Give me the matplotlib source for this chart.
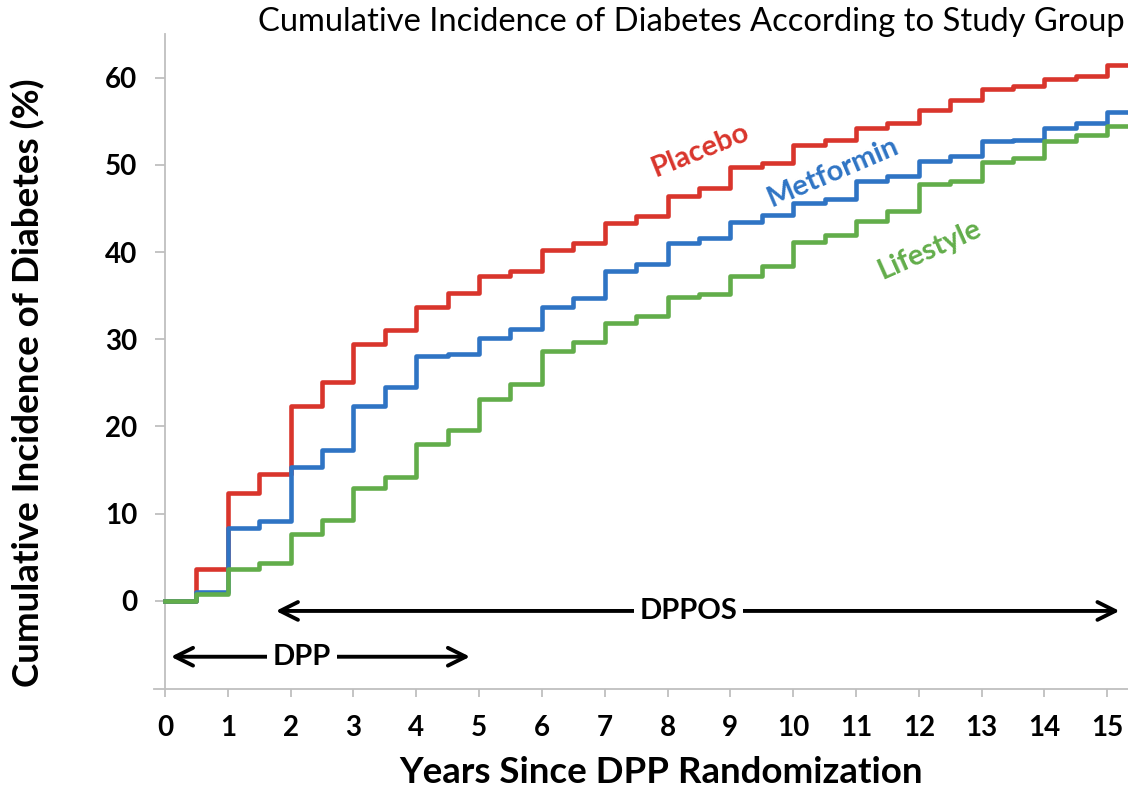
import matplotlib
matplotlib.use("Agg")
import matplotlib.pyplot as plt

plt.rcParams['font.family'] = ['Lato', 'DejaVu Sans']

# step times (years) and cumulative incidence (%)
years = [0, 0.5, 1, 1.5, 2, 2.5, 3, 3.5, 4, 4.5, 5, 5.5, 6, 6.5, 7, 7.5,
         8, 8.5, 9, 9.5, 10, 10.5, 11, 11.5, 12, 12.5, 13, 13.5, 14, 14.5, 15]
placebo = [0, 3.7, 12.4, 14.5, 22.4, 25.1, 29.4, 31.1, 33.7, 35.3, 37.3, 37.8,
           40.2, 41.0, 43.3, 44.1, 46.4, 47.4, 49.8, 50.2, 52.3, 52.9, 54.2,
           54.8, 56.3, 57.4, 58.7, 59.0, 59.8, 60.2, 61.5]
metformin = [0, 1.0, 8.4, 9.2, 15.4, 17.3, 22.3, 24.5, 28.1, 28.3, 30.1, 31.2,
             33.7, 34.7, 37.8, 38.6, 41.0, 41.6, 43.5, 44.2, 45.6, 46.1, 48.1,
             48.7, 50.4, 51.0, 52.7, 52.9, 54.2, 54.8, 56.1]
lifestyle = [0, 0.8, 3.7, 4.3, 7.7, 9.3, 13.0, 14.2, 18.0, 19.6, 23.2, 24.9,
             28.7, 29.7, 31.9, 32.7, 34.9, 35.2, 37.2, 38.4, 41.2, 41.9, 43.6,
             44.7, 47.8, 48.1, 50.3, 50.8, 52.7, 53.4, 54.5]
x_end = 15.5

groups = ["Placebo", "Metformin", "Lifestyle"]
colors = ["#d9352c", "#2f74c4", "#62ad4a"]
label_pos = [(8.52, 51.7, 22), (10.64, 49.2, 23), (12.18, 40.3, 24)]

fig = plt.figure(figsize=(11.28, 7.88), dpi=100)
ax = fig.add_axes([154 / 1128, 99 / 788, 974 / 1128, 655 / 788])

for name, vals, c, (lx, ly, rot) in zip(groups, [placebo, metformin, lifestyle], colors, label_pos):
    ax.step(years + [x_end], vals + [vals[-1]], where="post", color=c, lw=3.3, zorder=3)
    ax.text(lx, ly, name, color=c, fontsize=21, fontweight="bold", rotation=rot,
            ha="center", va="center")

ax.set_xlim(-0.175, 15.33)
ax.set_ylim(-10.1, 65)

# study period arrows
ax.annotate("", xy=(1.72, -1.15), xytext=(15.24, -1.15),
            arrowprops=dict(arrowstyle="<->", lw=2.8, color="black", mutation_scale=32))
ax.text(8.33, -1.15, "DPPOS", fontsize=21, fontweight="bold", ha="center", va="center",
        bbox=dict(facecolor="white", edgecolor="none", pad=4))
ax.annotate("", xy=(0.05, -6.4), xytext=(4.9, -6.4),
            arrowprops=dict(arrowstyle="<->", lw=2.8, color="black", mutation_scale=32))
ax.text(2.18, -6.4, "DPP", fontsize=21, fontweight="bold", ha="center", va="center",
        bbox=dict(facecolor="white", edgecolor="none", pad=4))

ax.spines["top"].set_visible(False)
ax.spines["right"].set_visible(False)
ax.spines["left"].set_position(("data", 0))
for s in ["left", "bottom"]:
    ax.spines[s].set_color("#bfbfbf")
    ax.spines[s].set_linewidth(1.3)

ax.set_xticks(range(0, 16))
ax.set_yticks(range(0, 61, 10))
ax.tick_params(axis="x", length=6, width=1.3, color="#bfbfbf", pad=13, labelsize=20)
ax.tick_params(axis="y", length=7, width=1.3, color="#bfbfbf", pad=13, labelsize=20)
for lab in ax.get_xticklabels() + ax.get_yticklabels():
    lab.set_fontweight("bold")

ax.set_ylabel("Cumulative Incidence of Diabetes (%)", fontsize=26.5, fontweight="bold")
ax.yaxis.set_label_coords(-0.112, 0.467)
ax.set_xlabel("Years Since DPP Randomization", fontsize=26.4, fontweight="bold")
ax.xaxis.set_label_coords(0.521, -0.102)

fig.text(0.997, 0.972, "Cumulative Incidence of Diabetes According to Study Group",
         fontsize=23.6, ha="right", va="center")

plt.savefig("out.png", dpi=100)
